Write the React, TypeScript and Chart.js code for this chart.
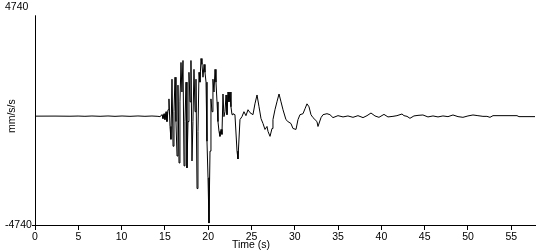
import React, { useEffect, useRef } from "react";
import { Chart, registerables } from "chart.js";

Chart.register(...registerables);

// Time of each sample (s)
const timeS = [
  0, 2.31, 4.04, 4.97, 5.77, 6.58, 7.51, 8.43, 9.24, 10.05, 10.97, 11.89, 12.7, 13.51, 14.2,
  14.43, 14.67, 14.78, 14.9, 15.01, 15.13, 15.24, 15.36, 15.47, 15.59, 15.7, 15.82, 15.94, 16.05,
  16.17, 16.28, 16.4, 16.51, 16.63, 16.74, 16.86, 16.97, 17.09, 17.21, 17.32, 17.44, 17.55, 17.67,
  17.78, 17.9, 18.01, 18.13, 18.24, 18.36, 18.48, 18.59, 18.71, 18.82, 18.94, 19.05, 19.17, 19.28,
  19.4, 19.52, 19.63, 19.75, 19.86, 19.98, 20.09, 20.21, 20.32, 20.44, 20.55, 20.67, 20.79, 20.9,
  21.02, 21.13, 21.25, 21.36, 21.48, 21.59, 21.71, 21.82, 21.94, 22.06, 22.17, 22.29, 22.4, 22.52,
  22.63, 22.75, 22.86, 23.09, 23.33, 23.44, 23.67, 23.9, 24.13, 24.36, 24.6, 24.83, 25.17, 25.4,
  25.64, 25.87, 26.1, 26.33, 26.56, 26.79, 26.91, 27.14, 27.37, 27.48, 27.71, 27.94, 28.18, 28.41,
  28.64, 28.98, 29.21, 29.56, 29.79, 30.14, 30.37, 30.6, 30.95, 31.18, 31.41, 31.64, 31.87, 32.1,
  32.56, 32.68, 33.03, 33.26, 33.72, 34.06, 34.41, 34.99, 35.57, 36.14, 36.72, 37.3, 37.88, 38.34,
  38.8, 39.26, 39.72, 40.3, 40.76, 41.34, 41.8, 42.38, 42.61, 42.96, 43.3, 43.76, 44.23, 44.8,
  45.38, 45.96, 46.54, 47.11, 47.69, 48.27, 48.85, 49.42, 50.0, 50.58, 51.15, 51.73, 52.19, 52.54,
  52.89, 55.66, 55.89, 57.74,
];

// Acceleration at each sample (mm/s/s)
const accel = [
  0, 3, -3, 5, -6, 7, -7, 8, -8, 7, -8, 8, -7, 6, -8,
  -21, 64, -107, 107, -150, 193, -236, 279, 751, -450, -1008, 1609, -1309, 193,
  1695, -236, -1737, 1351, -2038, 622, 2338, 1051, 2424, -2166, -236, 1480, -2252, -236,
  1909, 622, 2424, -1952, -236, 2038, 193, 1609, -3153, -665, 1909, 1480, 2510, 2252,
  1695, 2252, 1909, 1480, -1094, -2681, -4655, -1523, 751, 193, 1609, 1051, 2038, 1480,
  622, -236, -665, -880, -579, -794, 965, -21, 193, 922, 64, 1051, 622, 1051,
  408, 64, 107, 64, -1523, -1866, -150, -21, 193, 21, 279, 150, 64, 536,
  922, 408, -107, -322, -579, -450, -665, -880, -536, -150, 279, 622, 965, 622,
  279, -150, -236, -322, -536, -579, -150, 64, 107, 322, 536, 408, 64, -64,
  -236, -450, -64, 64, 107, 64, -64, 21, -34, 9, -51, 21, -64, 21,
  137, 9, -51, 77, -34, -9, 21, 94, 21, -9, -94, 9, 34, 51,
  -34, 9, -34, 9, -21, 51, -21, -51, 9, 51, 21, -9, -9, -51,
  21, 21, -21, -21,
];

const xTicks = [0, 5, 10, 15, 20, 25, 30, 35, 40, 45, 50, 55];
const yTicks = [-4740, 4740];
const xMax = 57.74;
const yLimit = 4740;
const xTitle = "Time (s)";
const yTitle = "mm/s/s";

const FONT = '"Liberation Sans", Arial, sans-serif';

export default function App() {
  const ref = useRef<HTMLCanvasElement | null>(null);

  useEffect(() => {
    document.body.style.margin = "0";
    const canvas = ref.current;
    if (!canvas) return;

    const titlesPlugin = {
      id: "customAxes",
      afterDraw(chart: any) {
        const { ctx, chartArea } = chart;
        ctx.save();
        ctx.strokeStyle = "#000";
        ctx.lineWidth = 1;
        ctx.beginPath();
        ctx.moveTo(chartArea.left + 0.5, chartArea.top + 8);
        ctx.lineTo(chartArea.left + 0.5, chartArea.bottom);
        ctx.stroke();
        ctx.fillStyle = "#000";
        ctx.font = `10.5px ${FONT}`;
        ctx.textAlign = "center";
        ctx.textBaseline = "middle";
        ctx.fillText(xTitle, 251, 245);
        ctx.translate(12, (chartArea.top + chartArea.bottom) / 2);
        ctx.rotate(-Math.PI / 2);
        ctx.fillText(yTitle, 0, 0);
        ctx.restore();
      },
    };

    const chart = new Chart(canvas, {
      type: "line",
      data: {
        datasets: [
          {
            data: timeS.map((t, i) => ({ x: t, y: accel[i] })),
            borderColor: "#000",
            borderWidth: 1,
            pointRadius: 0,
            tension: 0,
            fill: false,
          },
        ],
      },
      options: {
        responsive: false,
        animation: false,
        layout: { padding: { left: 5, right: 15, top: 4, bottom: 0 } },
        plugins: { legend: { display: false }, tooltip: { enabled: false } },
        scales: {
          x: {
            type: "linear",
            min: 0,
            max: xMax,
            afterBuildTicks: (s: any) => {
              s.ticks = xTicks.map((v) => ({ value: v }));
            },
            afterFit: (s: any) => {
              s.height = 25;
            },
            grid: {
              display: true,
              drawOnChartArea: false,
              drawTicks: true,
              tickLength: 5,
              color: "#000",
            },
            border: { display: true, color: "#000", width: 1 },
            ticks: {
              color: "#000",
              font: { family: FONT, size: 10.5 },
              padding: 1,
              maxRotation: 0,
              autoSkip: false,
              callback: (v: any) => String(v),
            },
          },
          y: {
            type: "linear",
            min: -yLimit,
            max: yLimit,
            afterBuildTicks: (s: any) => {
              s.ticks = yTicks.map((v) => ({ value: v }));
            },
            afterFit: (s: any) => {
              s.width = 30;
            },
            grid: {
              display: true,
              drawOnChartArea: false,
              drawTicks: true,
              tickLength: 3,
              color: (c: any) => (c.tick && c.tick.value > 0 ? "rgba(0,0,0,0)" : "#000"),
            },
            border: { display: false },
            ticks: {
              color: "#000",
              font: { family: FONT, size: 10.5 },
              crossAlign: "far",
              padding: 1,
              autoSkip: false,
              callback: (v: any) => String(v),
            },
          },
        },
      },
      plugins: [titlesPlugin],
    } as any);

    return () => chart.destroy();
  }, []);

  return (
    <div style={{ width: 550, height: 250 }}>
      <canvas ref={ref} width={550} height={250} />
    </div>
  );
}
